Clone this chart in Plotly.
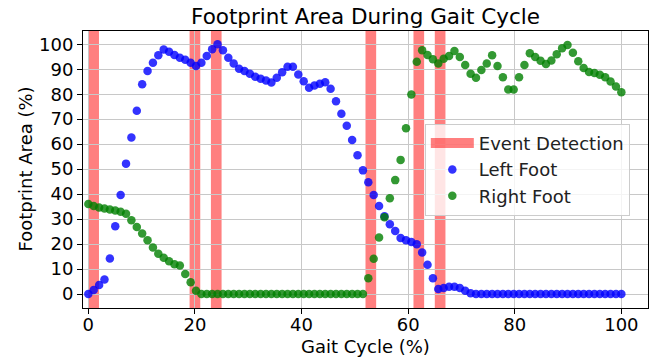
import numpy as np
import plotly.graph_objects as go

# ---- data ----
gait_cycle = np.linspace(0, 100, 100)

left_foot = [
    0, 1.6, 3.6, 5.8, 14.2, 27.1, 39.6, 52.2, 62.7, 73.4,
    84.0, 89.3, 92.6, 95.6, 97.9, 97.0, 95.7, 94.6, 93.8,
    92.6, 91.3, 92.6, 95.3, 98.0, 100.0, 97.6, 94.6, 92.3, 90.2, 89.3,
    88.2, 87.0, 86.2, 85.5, 84.7, 86.6, 88.8, 91.0, 91.0, 87.9, 85.2,
    82.6, 83.5, 84.2, 84.8, 82.2, 77.2, 72.2, 67.4, 61.7, 55.6,
    49.5, 44.7, 39.6, 35.2, 31.1, 27.9, 25.2, 22.4, 21.5, 20.8, 19.9, 16.6,
    11.7, 6.3, 2.0, 2.4, 2.9, 2.9, 2.4, 1.3, 0.3,
    0, 0, 0, 0, 0, 0, 0, 0, 0, 0, 0, 0, 0, 0,
    0, 0, 0, 0, 0, 0, 0, 0, 0, 0, 0, 0, 0, 0,
]

right_foot = [
    36.0, 35.2, 34.6, 34.2, 33.8, 33.4, 32.9, 32.1, 29.5, 26.8,
    24.2, 21.5, 18.6, 16.1, 14.5, 13.1, 11.9, 11.4,
    8.0, 4.7, 1.3,
    0, 0, 0, 0, 0, 0, 0, 0, 0, 0, 0, 0, 0, 0, 0, 0,
    0, 0, 0, 0, 0, 0, 0, 0, 0, 0, 0, 0, 0, 0, 0,
    6.3, 14.1, 22.6, 30.7, 38.3, 45.6, 53.7, 66.4, 79.9, 93.0, 97.6,
    95.7, 94.0, 92.3, 94.2, 95.3, 97.3, 94.9, 91.7, 88.2, 86.6,
    89.7, 92.3, 95.6, 91.3, 86.8, 81.9, 81.9,
    86.8, 91.7, 96.4, 94.9, 93.4, 92.1, 93.5, 96.0, 98.4, 99.7,
    96.6, 93.2, 90.5, 88.9, 88.5, 87.8, 86.8, 85.1, 83.1, 80.8,
]

event_starts = [0, 19, 23, 52, 61, 65]
event_ends = [2, 21, 25, 54, 63, 67]

x_ticks = [0, 20, 40, 60, 80, 100]
y_ticks = list(range(0, 101, 10))

FONT = "DejaVu Sans"
BAND = "rgba(255,0,0,0.5)"

fig = go.Figure()

# legend entry for event bands
fig.add_trace(go.Scatter(
    x=[None], y=[None], mode="lines",
    line=dict(color=BAND, width=13),
    name="Event Detection", showlegend=True,
))

fig.add_trace(go.Scatter(
    x=gait_cycle, y=left_foot, mode="markers", name="Left Foot",
    marker=dict(color="rgba(0,0,255,0.8)", size=8.5, line=dict(width=0)),
))
fig.add_trace(go.Scatter(
    x=gait_cycle, y=right_foot, mode="markers", name="Right Foot",
    marker=dict(color="rgba(0,128,0,0.8)", size=8.5, line=dict(width=0)),
))

for s, e in zip(event_starts, event_ends):
    fig.add_shape(type="rect", xref="x", yref="paper",
                  x0=s, x1=e, y0=0, y1=1,
                  fillcolor=BAND, line=dict(width=0), layer="below")

axis_common = dict(
    showline=True, linecolor="black", linewidth=1, mirror=True,
    ticks="outside", ticklen=5, tickcolor="black", tickwidth=1,
    showgrid=True, gridcolor="#c8c8c8", gridwidth=1,
    zeroline=False,
    tickfont=dict(family=FONT, size=18, color="black"),
)

fig.update_layout(
    width=651, height=357, autosize=False,
    margin=dict(l=83, r=3, t=31, b=49),
    paper_bgcolor="white", plot_bgcolor="white",
    font=dict(family=FONT, size=18, color="black"),
    title=dict(text="Footprint Area During Gait Cycle",
               font=dict(family=FONT, size=21.5, color="black"),
               x=0.5, xref="paper", xanchor="center",
               y=1 - 16 / 357, yref="container", yanchor="middle"),
    xaxis=dict(range=[-1, 105], tickvals=x_ticks, ticklabelstandoff=-5,
               **axis_common),
    yaxis=dict(range=[-5.6, 105.3], tickvals=y_ticks, **axis_common),
    legend=dict(x=0.605, y=0.665, xanchor="left", yanchor="top",
                bgcolor="rgba(255,255,255,0.8)", bordercolor="#cccccc",
                borderwidth=1, font=dict(family=FONT, size=18, color="#222222"),
                traceorder="normal", itemsizing="trace", itemwidth=43),
    showlegend=True,
    annotations=[
        dict(text="Gait Cycle (%)", xref="paper", yref="paper",
             x=0.5, y=(308 - 346) / 277, xanchor="center", yanchor="middle",
             showarrow=False, font=dict(family=FONT, size=18, color="black")),
        dict(text="Footprint Area (%)", xref="paper", yref="paper",
             x=(25 - 83) / 565, y=0.5, xanchor="center", yanchor="middle",
             textangle=-90, showarrow=False,
             font=dict(family=FONT, size=18, color="black")),
    ],
)

fig.write_html("out.html")
